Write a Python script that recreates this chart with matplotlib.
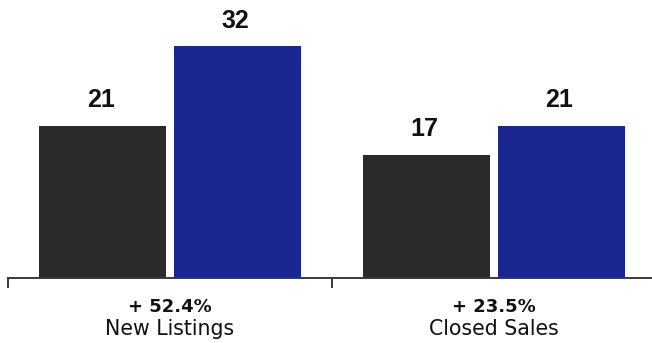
import matplotlib
matplotlib.use("Agg")
import matplotlib.pyplot as plt
import numpy as np

categories = ["New Listings", "Closed Sales"]
changes = ["+ 52.4%", "+ 23.5%"]
prior_year = [21, 17]
current_year = [32, 21]

W, H = 652, 343
DPI = 100
fig = plt.figure(figsize=(W / DPI, H / DPI), dpi=DPI)
fig.patch.set_facecolor("white")

base_px = 278          # baseline, pixels from top
px_per_unit = 7.24
ax_left, ax_right = 8, 656
ax = fig.add_axes([ax_left / W, (H - base_px) / H,
                   (ax_right - ax_left) / W, base_px / H])
ax.set_xlim(-0.5, 1.5)
ax.set_ylim(0, base_px / px_per_unit)

x = np.arange(len(categories))
bw = 0.392
off = 0.2075
black = "#2a2a2a"
blue = "#1a2792"

b1 = ax.bar(x - off, prior_year, bw, color=black, zorder=2)
b2 = ax.bar(x + off, current_year, bw, color=blue, zorder=2)

font = ["Liberation Sans", "DejaVu Sans"]
wide = ["DejaVu Sans"]
for bars, vals in ((b1, prior_year), (b2, current_year)):
    for rect, v in zip(bars, vals):
        ax.annotate(str(v), (rect.get_x() + rect.get_width() / 2, v),
                    xytext=(-1.5, 13.5), textcoords="offset points",
                    ha="center", va="baseline", fontsize=18,
                    fontweight="bold", family=font, color="#111111")

for i, (c, p) in enumerate(zip(categories, changes)):
    ax.annotate(p, (i, 0), xytext=(0, -24.5), textcoords="offset points",
                ha="center", va="baseline", fontsize=13, fontweight="bold",
                family=wide, color="#111111", annotation_clip=False)
    ax.annotate(c, (i, 0), xytext=(0, -41), textcoords="offset points",
                ha="center", va="baseline", fontsize=14.8,
                family=wide, color="#111111", annotation_clip=False)

for s in ("top", "right", "left"):
    ax.spines[s].set_visible(False)
ax.spines["bottom"].set_color("#3a3a3a")
ax.spines["bottom"].set_linewidth(1.4)
ax.set_yticks([])
ax.set_xticks([-0.5, 0.5, 1.5])
ax.set_xticklabels([])
ax.tick_params(axis="x", length=7, width=1.4, color="#3a3a3a", direction="out")

fig.savefig("out.png", dpi=DPI, facecolor="white")
